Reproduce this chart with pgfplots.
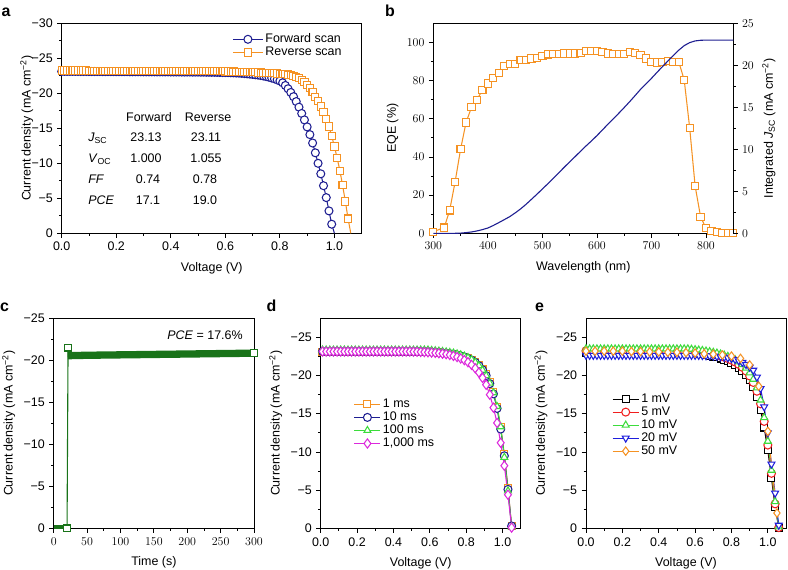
\documentclass[border=0pt]{standalone}
\usepackage{pgfplots}
\pgfplotsset{compat=1.18}
\usepackage{fontspec}
\setmainfont{Liberation Sans}
\definecolor{navy}{RGB}{30,30,145}
\definecolor{orng}{RGB}{245,146,35}
\definecolor{dgreen}{RGB}{25,115,25}
\definecolor{lgreen}{RGB}{60,220,60}
\definecolor{magn}{RGB}{220,40,220}
\definecolor{redc}{RGB}{240,30,30}
\definecolor{bluec}{RGB}{30,30,220}
\pgfplotsset{
  panel/.style={
    scale only axis, tick align=outside, xtick pos=bottom, ytick pos=left,
    major tick length=4.5bp, minor tick length=2.5bp,
    every tick/.style={black, line width=0.8bp},
    axis line style={line width=0.9bp, black},
    legend style={draw=none, fill=none, legend cell align=left, inner sep=1bp, row sep=-1.5bp},
    every axis plot/.append style={line width=1.05bp},
    xlabel shift=3bp,
  },
  bottomrow/.style={xticklabel style={yshift=-1bp}, xlabel shift=2bp},
  mk/.style n args={3}{color=#1, mark=#2, mark size=#3, mark options={solid, fill=white}},
  legimg/.style={legend image code/.code={\draw[mark repeat=2,mark phase=2,##1] plot coordinates {(0bp,0bp)(#1,0bp)(2*#1,0bp)};}},
}
\newcommand{\mcm}{(mA cm\textsuperscript{−2})}
\begin{document}
\fontsize{12.5}{15}\selectfont
\begin{tikzpicture}
\useasboundingbox (0,0) rectangle (788bp,-570bp);
% ---------------- a
\begin{axis}[panel, at={(61.7bp,-233.3bp)}, anchor=south west, width=300bp, height=210bp,
  xmin=0, xmax=1.1, ymin=-30, ymax=0, y dir=reverse,
  xtick={0,0.2,0.4,0.6,0.8,1.0}, xticklabels={0.0,0.2,0.4,0.6,0.8,1.0}, minor x tick num=1,
  ytick={-30,-25,-20,-15,-10,-5,0}, yticklabels={−30,−25,−20,−15,−10,−5,0}, minor y tick num=1,
  xlabel={Voltage (V)}, ylabel={Current density \mcm}, ylabel shift=-10bp,
  legimg=15bp, legend style={at={(0.565,0.965)}, anchor=north west}]
\addplot[mk={navy}{*}{4bp}] coordinates {(0.00,-23.13)(0.01,-23.13)(0.02,-23.13)(0.03,-23.13)(0.04,-23.13)(0.05,-23.13)(0.06,-23.12)(0.07,-23.12)(0.08,-23.12)(0.09,-23.12)(0.10,-23.11)(0.11,-23.11)(0.12,-23.11)(0.13,-23.11)(0.14,-23.11)(0.15,-23.10)(0.16,-23.10)(0.17,-23.10)(0.18,-23.10)(0.19,-23.10)(0.20,-23.09)(0.21,-23.09)(0.22,-23.09)(0.23,-23.09)(0.24,-23.09)(0.25,-23.08)(0.26,-23.08)(0.27,-23.08)(0.28,-23.08)(0.29,-23.08)(0.30,-23.07)(0.31,-23.07)(0.32,-23.07)(0.33,-23.07)(0.34,-23.07)(0.35,-23.06)(0.36,-23.06)(0.37,-23.06)(0.38,-23.06)(0.39,-23.06)(0.40,-23.05)(0.41,-23.05)(0.42,-23.05)(0.43,-23.05)(0.44,-23.04)(0.45,-23.04)(0.46,-23.04)(0.47,-23.04)(0.48,-23.03)(0.49,-23.03)(0.50,-23.03)(0.51,-23.02)(0.52,-23.02)(0.53,-23.01)(0.54,-23.01)(0.55,-23.00)(0.56,-23.00)(0.57,-22.99)(0.58,-22.98)(0.59,-22.97)(0.60,-22.96)(0.61,-22.95)(0.62,-22.94)(0.63,-22.92)(0.64,-22.90)(0.65,-22.88)(0.66,-22.85)(0.67,-22.82)(0.68,-22.78)(0.69,-22.74)(0.70,-22.70)(0.71,-22.65)(0.72,-22.60)(0.73,-22.54)(0.74,-22.47)(0.75,-22.39)(0.76,-22.30)(0.77,-22.19)(0.78,-22.07)(0.79,-21.93)(0.80,-21.76)(0.81,-21.50)(0.82,-21.12)(0.83,-20.65)(0.84,-20.12)(0.85,-19.52)(0.86,-18.82)(0.87,-18.02)(0.88,-17.12)(0.89,-16.20)(0.90,-15.20)(0.91,-14.10)(0.92,-12.90)(0.93,-11.50)(0.94,-10.00)(0.95,-8.50)(0.96,-6.80)(0.97,-5.10)(0.98,-3.20)(0.99,-1.30)};
\addlegendentry{Forward scan}
\addplot[mk={orng}{square*}{3.6bp}] coordinates {(0.00,-23.25)(0.01,-23.25)(0.02,-23.25)(0.03,-23.25)(0.04,-23.25)(0.05,-23.25)(0.06,-23.25)(0.07,-23.25)(0.08,-23.25)(0.09,-23.25)(0.10,-23.23)(0.11,-23.23)(0.12,-23.23)(0.13,-23.23)(0.14,-23.23)(0.15,-23.23)(0.16,-23.23)(0.17,-23.23)(0.18,-23.23)(0.19,-23.23)(0.20,-23.21)(0.21,-23.21)(0.22,-23.21)(0.23,-23.21)(0.24,-23.21)(0.25,-23.21)(0.26,-23.21)(0.27,-23.21)(0.28,-23.21)(0.29,-23.21)(0.30,-23.19)(0.31,-23.19)(0.32,-23.19)(0.33,-23.19)(0.34,-23.19)(0.35,-23.19)(0.36,-23.19)(0.37,-23.19)(0.38,-23.19)(0.39,-23.19)(0.40,-23.17)(0.41,-23.17)(0.42,-23.17)(0.43,-23.17)(0.44,-23.17)(0.45,-23.17)(0.46,-23.17)(0.47,-23.17)(0.48,-23.17)(0.49,-23.17)(0.50,-23.15)(0.51,-23.15)(0.52,-23.15)(0.53,-23.15)(0.54,-23.15)(0.55,-23.15)(0.56,-23.15)(0.57,-23.15)(0.58,-23.15)(0.59,-23.15)(0.60,-23.13)(0.61,-23.12)(0.62,-23.11)(0.63,-23.10)(0.64,-23.09)(0.65,-23.08)(0.66,-23.07)(0.67,-23.06)(0.68,-23.05)(0.69,-23.03)(0.70,-23.02)(0.71,-23.00)(0.72,-22.98)(0.73,-22.96)(0.74,-22.94)(0.75,-22.92)(0.76,-22.90)(0.77,-22.88)(0.78,-22.85)(0.79,-22.82)(0.80,-22.79)(0.81,-22.76)(0.82,-22.72)(0.83,-22.67)(0.84,-22.60)(0.85,-22.50)(0.86,-22.36)(0.87,-22.16)(0.88,-21.90)(0.89,-21.58)(0.90,-21.20)(0.91,-20.72)(0.92,-20.15)(0.93,-19.52)(0.94,-18.85)(0.95,-18.12)(0.96,-17.30)(0.97,-16.35)(0.98,-15.25)(0.99,-13.90)(1.00,-12.40)(1.01,-10.75)(1.02,-8.95)(1.03,-6.85)(1.04,-4.55)(1.05,-2.10)};
\addlegendentry{Reverse scan}
\addplot[navy, forget plot] coordinates {(0.99,-1.3)(1.0,0)};
\addplot[orng, forget plot] coordinates {(1.05,-2.1)(1.06,0)};
\end{axis}
% ---------------- b
\begin{axis}[panel, at={(433.3bp,-233.3bp)}, anchor=south west, width=300bp, height=210bp,
  xmin=300, xmax=850, ymin=0, ymax=110,
  xtick={300,400,...,800}, minor x tick num=1, ytick={0,20,...,100}, minor y tick num=1,
  xlabel={Wavelength (nm)}, ylabel={EQE (\%)}]
\addplot[mk={orng}{square*}{3.6bp}] coordinates {(300,0.8)(320,3)(330,12)(340,27)(350,44)(360,58)(370,66)(380,70)(390,75)(400,78.5)(410,81.5)(420,84)(430,87.6)(440,88.8)(450,88.8)(460,90.6)(470,90.6)(480,91.6)(490,92)(500,92.8)(510,93.7)(520,93.9)(530,94)(540,94.2)(550,94.2)(560,94.2)(570,94.6)(580,95.6)(590,95.3)(600,95.3)(610,94.8)(620,94.2)(630,93.9)(640,93.9)(650,93.9)(660,95.1)(670,94.6)(680,93.4)(690,91.6)(700,89.9)(710,89.5)(720,89.9)(730,90.4)(740,89.9)(750,89.9)(760,80.3)(770,55.3)(780,24.8)(790,8.7)(800,2.6)(810,1.2)(820,0.5)(830,0.3)(840,0.3)(850,0.3)};
\end{axis}
\begin{axis}[scale only axis, at={(433.3bp,-233.3bp)}, anchor=south west, width=300bp, height=210bp,
  xmin=300, xmax=850, ymin=0, ymax=25, axis x line=none, axis y line*=right, ytick pos=right,
  tick align=outside, major tick length=4.5bp, minor tick length=2.5bp,
  every tick/.style={black, line width=0.8bp}, axis line style={line width=0.9bp, black},
  ytick={0,5,...,25}, minor y tick num=1,
  ylabel={Integrated \textit{J}\textsubscript{SC} \mcm}]
\addplot[navy, line width=1.1bp] coordinates {(300,0)(340,0)(350,0.02)(360,0.08)(370,0.16)(380,0.28)(390,0.44)(400,0.63)(410,0.93)(420,1.27)(430,1.62)(440,1.98)(450,2.42)(460,2.9)(470,3.45)(480,4.05)(490,4.65)(500,5.28)(510,5.9)(520,6.55)(530,7.2)(540,7.86)(550,8.5)(560,9.13)(570,9.77)(580,10.4)(590,11.0)(600,11.63)(610,12.3)(620,12.98)(630,13.63)(640,14.29)(650,14.97)(660,15.67)(670,16.4)(680,17.14)(690,17.8)(700,18.45)(710,19.15)(720,19.84)(730,20.5)(740,21.15)(750,21.8)(760,22.34)(770,22.7)(780,22.9)(790,22.98)(800,23.0)(850,23.0)};
\end{axis}
% ---------------- c
\begin{axis}[panel, bottomrow, at={(53.7bp,-528.3bp)}, anchor=south west, width=200.3bp, height=210bp,
  xmin=0, xmax=300, ymin=-25, ymax=0, y dir=reverse,
  xtick={0,50,...,300}, minor x tick num=1,
  ytick={-25,-20,-15,-10,-5,0}, yticklabels={−25,−20,−15,−10,−5,0}, minor y tick num=1,
  xlabel={Time (s)}, ylabel={Current density \mcm}]
\addplot[dgreen, line width=6bp] coordinates {(0,0)(19,0)};
\addplot[dgreen, line width=7.3bp] coordinates {(21,-20.55)(50,-20.6)(100,-20.65)(150,-20.7)(200,-20.75)(250,-20.8)(300,-20.85)};
\addplot[mk={dgreen}{square*}{3.3bp}, line width=1.1bp] coordinates {(20,0)(21.5,-21.5)};
\addplot[mk={dgreen}{square*}{3.3bp}, line width=1.1bp] coordinates {(300,-20.85)};
\end{axis}
% ---------------- d
\begin{axis}[panel, bottomrow, at={(320.7bp,-528.3bp)}, anchor=south west, width=200bp, height=210bp,
  xmin=0, xmax=1.1, ymin=-27.5, ymax=0, y dir=reverse,
  xtick={0,0.2,0.4,0.6,0.8,1.0}, xticklabels={0.0,0.2,0.4,0.6,0.8,1.0}, minor x tick num=1,
  ytick={-25,-20,-15,-10,-5,0}, yticklabels={−25,−20,−15,−10,−5,0}, minor y tick num=1,
  xlabel={Voltage (V)}, ylabel={Current density \mcm},
  legimg=13bp, legend style={at={(0.16,0.63)}, anchor=north west}]
\addplot[mk={orng}{square*}{3.5bp}] coordinates {(0.01,-23.10)(0.03,-23.10)(0.05,-23.10)(0.07,-23.10)(0.09,-23.10)(0.11,-23.10)(0.13,-23.10)(0.15,-23.10)(0.17,-23.10)(0.19,-23.10)(0.21,-23.10)(0.23,-23.10)(0.25,-23.10)(0.27,-23.10)(0.29,-23.10)(0.31,-23.10)(0.33,-23.10)(0.35,-23.10)(0.37,-23.10)(0.39,-23.10)(0.41,-23.10)(0.43,-23.10)(0.45,-23.10)(0.47,-23.10)(0.49,-23.10)(0.51,-23.10)(0.53,-23.10)(0.55,-23.10)(0.57,-23.10)(0.59,-23.10)(0.61,-23.08)(0.63,-23.05)(0.65,-23.02)(0.67,-22.98)(0.69,-22.93)(0.71,-22.88)(0.73,-22.82)(0.75,-22.73)(0.77,-22.62)(0.79,-22.48)(0.81,-22.30)(0.83,-22.08)(0.85,-21.80)(0.87,-21.40)(0.89,-20.88)(0.91,-20.15)(0.93,-19.15)(0.95,-17.80)(0.97,-15.90)(0.99,-13.25)(1.01,-9.70)(1.03,-5.30)(1.05,-0.35)};
\addlegendentry{1 ms}
\addplot[mk={navy}{*}{4bp}] coordinates {(0.01,-23.15)(0.03,-23.15)(0.05,-23.15)(0.07,-23.15)(0.09,-23.15)(0.11,-23.15)(0.13,-23.15)(0.15,-23.15)(0.17,-23.15)(0.19,-23.15)(0.21,-23.15)(0.23,-23.15)(0.25,-23.15)(0.27,-23.15)(0.29,-23.15)(0.31,-23.15)(0.33,-23.15)(0.35,-23.15)(0.37,-23.15)(0.39,-23.15)(0.41,-23.15)(0.43,-23.15)(0.45,-23.15)(0.47,-23.15)(0.49,-23.15)(0.51,-23.15)(0.53,-23.15)(0.55,-23.15)(0.57,-23.15)(0.59,-23.15)(0.61,-23.10)(0.63,-23.07)(0.65,-23.03)(0.67,-22.98)(0.69,-22.93)(0.71,-22.87)(0.73,-22.80)(0.75,-22.70)(0.77,-22.58)(0.79,-22.43)(0.81,-22.25)(0.83,-22.02)(0.85,-21.72)(0.87,-21.30)(0.89,-20.75)(0.91,-20.00)(0.93,-18.95)(0.95,-17.60)(0.97,-15.70)(0.99,-13.00)(1.01,-9.50)(1.03,-5.10)(1.05,-0.30)};
\addlegendentry{10 ms}
\addplot[mk={lgreen}{triangle*}{4bp}] coordinates {(0.01,-23.35)(0.03,-23.35)(0.05,-23.35)(0.07,-23.35)(0.09,-23.35)(0.11,-23.35)(0.13,-23.35)(0.15,-23.35)(0.17,-23.35)(0.19,-23.35)(0.21,-23.35)(0.23,-23.35)(0.25,-23.35)(0.27,-23.35)(0.29,-23.35)(0.31,-23.35)(0.33,-23.35)(0.35,-23.35)(0.37,-23.35)(0.39,-23.35)(0.41,-23.35)(0.43,-23.35)(0.45,-23.35)(0.47,-23.35)(0.49,-23.35)(0.51,-23.35)(0.53,-23.35)(0.55,-23.35)(0.57,-23.35)(0.59,-23.35)(0.61,-23.30)(0.63,-23.26)(0.65,-23.21)(0.67,-23.16)(0.69,-23.10)(0.71,-23.03)(0.73,-22.95)(0.75,-22.85)(0.77,-22.72)(0.79,-22.56)(0.81,-22.36)(0.83,-22.10)(0.85,-21.75)(0.87,-21.30)(0.89,-20.72)(0.91,-20.00)(0.93,-19.00)(0.95,-17.75)(0.97,-15.95)(0.99,-13.30)(1.01,-9.30)(1.03,-4.90)(1.05,-0.20)};
\addlegendentry{100 ms}
\addplot[mk={magn}{diamond*}{4.6bp}] coordinates {(0.01,-23.15)(0.03,-23.15)(0.05,-23.15)(0.07,-23.15)(0.09,-23.15)(0.11,-23.15)(0.13,-23.15)(0.15,-23.15)(0.17,-23.15)(0.19,-23.15)(0.21,-23.15)(0.23,-23.15)(0.25,-23.15)(0.27,-23.15)(0.29,-23.15)(0.31,-23.15)(0.33,-23.15)(0.35,-23.15)(0.37,-23.15)(0.39,-23.15)(0.41,-23.15)(0.43,-23.15)(0.45,-23.15)(0.47,-23.15)(0.49,-23.15)(0.51,-23.13)(0.53,-23.12)(0.55,-23.10)(0.57,-23.08)(0.59,-23.05)(0.61,-23.02)(0.63,-22.98)(0.65,-22.93)(0.67,-22.87)(0.69,-22.80)(0.71,-22.70)(0.73,-22.58)(0.75,-22.43)(0.77,-22.25)(0.79,-22.03)(0.81,-21.75)(0.83,-21.40)(0.85,-20.95)(0.87,-20.40)(0.89,-19.70)(0.91,-18.80)(0.93,-17.50)(0.95,-15.80)(0.97,-13.80)(0.99,-11.20)(1.01,-8.20)(1.03,-4.40)(1.05,-0.10)};
\addlegendentry{1,000 ms}
\end{axis}
% ---------------- e
\begin{axis}[panel, bottomrow, at={(586bp,-528.3bp)}, anchor=south west, width=200bp, height=210bp,
  xmin=0, xmax=1.1, ymin=-27.5, ymax=0, y dir=reverse,
  xtick={0,0.2,0.4,0.6,0.8,1.0}, xticklabels={0.0,0.2,0.4,0.6,0.8,1.0}, minor x tick num=1,
  ytick={-25,-20,-15,-10,-5,0}, yticklabels={−25,−20,−15,−10,−5,0}, minor y tick num=1,
  xlabel={Voltage (V)}, ylabel={Current density \mcm},
  legimg=13bp, legend style={at={(0.125,0.655)}, anchor=north west}]
\addplot[mk={black}{square*}{3.5bp}] coordinates {(0.00,-23.00)(0.02,-23.00)(0.04,-23.00)(0.06,-23.00)(0.08,-23.00)(0.10,-23.00)(0.12,-23.00)(0.14,-23.00)(0.16,-23.00)(0.18,-23.00)(0.20,-23.00)(0.22,-23.00)(0.24,-23.00)(0.26,-23.00)(0.28,-23.00)(0.30,-23.00)(0.32,-23.00)(0.34,-23.00)(0.36,-23.00)(0.38,-23.00)(0.40,-23.00)(0.42,-23.00)(0.44,-23.00)(0.46,-23.00)(0.48,-23.00)(0.50,-23.00)(0.52,-23.00)(0.54,-23.00)(0.56,-23.00)(0.58,-22.95)(0.60,-22.90)(0.62,-22.84)(0.64,-22.77)(0.66,-22.69)(0.68,-22.60)(0.70,-22.50)(0.72,-22.38)(0.74,-22.24)(0.76,-22.08)(0.78,-21.88)(0.80,-21.65)(0.82,-21.38)(0.84,-21.05)(0.86,-20.62)(0.88,-20.08)(0.90,-19.38)(0.92,-18.45)(0.94,-17.20)(0.96,-15.50)(0.98,-13.20)(1.00,-10.20)(1.02,-6.60)(1.04,-2.80)(1.06,-0.10)};
\addlegendentry{1 mV}
\addplot[mk={redc}{*}{4bp}] coordinates {(0.00,-23.25)(0.02,-23.25)(0.04,-23.25)(0.06,-23.25)(0.08,-23.25)(0.10,-23.25)(0.12,-23.25)(0.14,-23.25)(0.16,-23.25)(0.18,-23.25)(0.20,-23.25)(0.22,-23.25)(0.24,-23.25)(0.26,-23.25)(0.28,-23.25)(0.30,-23.25)(0.32,-23.25)(0.34,-23.25)(0.36,-23.25)(0.38,-23.25)(0.40,-23.25)(0.42,-23.25)(0.44,-23.25)(0.46,-23.25)(0.48,-23.25)(0.50,-23.25)(0.52,-23.25)(0.54,-23.25)(0.56,-23.25)(0.58,-23.20)(0.60,-23.15)(0.62,-23.10)(0.64,-23.04)(0.66,-22.97)(0.68,-22.89)(0.70,-22.80)(0.72,-22.69)(0.74,-22.56)(0.76,-22.41)(0.78,-22.23)(0.80,-22.02)(0.82,-21.77)(0.84,-21.46)(0.86,-21.08)(0.88,-20.60)(0.90,-19.95)(0.92,-19.10)(0.94,-17.95)(0.96,-16.30)(0.98,-14.00)(1.00,-10.90)(1.02,-7.20)(1.04,-3.20)(1.06,-0.10)};
\addlegendentry{5 mV}
\addplot[mk={lgreen}{triangle*}{4bp}] coordinates {(0.00,-23.50)(0.02,-23.50)(0.04,-23.50)(0.06,-23.50)(0.08,-23.50)(0.10,-23.50)(0.12,-23.50)(0.14,-23.50)(0.16,-23.50)(0.18,-23.50)(0.20,-23.50)(0.22,-23.50)(0.24,-23.50)(0.26,-23.50)(0.28,-23.50)(0.30,-23.50)(0.32,-23.50)(0.34,-23.50)(0.36,-23.50)(0.38,-23.50)(0.40,-23.50)(0.42,-23.50)(0.44,-23.50)(0.46,-23.50)(0.48,-23.50)(0.50,-23.50)(0.52,-23.50)(0.54,-23.50)(0.56,-23.50)(0.58,-23.45)(0.60,-23.40)(0.62,-23.35)(0.64,-23.29)(0.66,-23.22)(0.68,-23.14)(0.70,-23.05)(0.72,-22.95)(0.74,-22.83)(0.76,-22.69)(0.78,-22.52)(0.80,-22.32)(0.82,-22.08)(0.84,-21.79)(0.86,-21.43)(0.88,-20.97)(0.90,-20.35)(0.92,-19.52)(0.94,-18.40)(0.96,-16.80)(0.98,-14.50)(1.00,-11.40)(1.02,-7.60)(1.04,-3.50)(1.06,-0.20)};
\addlegendentry{10 mV}
\addplot[color=bluec, mark=triangle*, mark size=4bp, mark options={solid, fill=white, rotate=180}] coordinates {(0.00,-22.65)(0.02,-22.65)(0.04,-22.65)(0.06,-22.65)(0.08,-22.65)(0.10,-22.65)(0.12,-22.65)(0.14,-22.65)(0.16,-22.65)(0.18,-22.65)(0.20,-22.65)(0.22,-22.65)(0.24,-22.65)(0.26,-22.65)(0.28,-22.65)(0.30,-22.65)(0.32,-22.65)(0.34,-22.65)(0.36,-22.65)(0.38,-22.65)(0.40,-22.65)(0.42,-22.65)(0.44,-22.65)(0.46,-22.65)(0.48,-22.65)(0.50,-22.65)(0.52,-22.65)(0.54,-22.65)(0.56,-22.65)(0.58,-22.65)(0.60,-22.65)(0.62,-22.64)(0.64,-22.62)(0.66,-22.60)(0.68,-22.58)(0.70,-22.55)(0.72,-22.51)(0.74,-22.46)(0.76,-22.40)(0.78,-22.32)(0.80,-22.22)(0.82,-22.10)(0.84,-21.93)(0.86,-21.72)(0.88,-21.45)(0.90,-21.10)(0.92,-20.70)(0.94,-19.80)(0.96,-18.30)(0.98,-15.90)(1.00,-12.50)(1.02,-8.40)(1.04,-4.60)(1.06,-0.40)};
\addlegendentry{20 mV}
\addplot[mk={orng}{diamond*}{4.2bp}] coordinates {(0.00,-23.20)(0.05,-23.20)(0.10,-23.20)(0.15,-23.20)(0.20,-23.20)(0.25,-23.15)(0.30,-23.15)(0.35,-23.10)(0.40,-23.10)(0.45,-23.05)(0.50,-23.05)(0.55,-23.00)(0.60,-22.95)(0.65,-22.85)(0.70,-22.80)(0.75,-22.70)(0.80,-22.55)(0.85,-22.25)(0.90,-21.40)(0.95,-18.60)(1.00,-12.70)(1.05,-2.00)};
\addlegendentry{50 mV}
\end{axis}
% ---------------- text
\node[anchor=base] at (149bp,-121bp) {Forward};
\node[anchor=base] at (208bp,-121bp) {Reverse};
\node[anchor=base west] at (84bp,-141.7bp) {\textit{J}\textsubscript{SC}};
\node[anchor=base west] at (84bp,-162.5bp) {\textit{V}\textsubscript{OC}};
\node[anchor=base west] at (84bp,-183.5bp) {\textit{FF}};
\node[anchor=base west] at (84bp,-204.3bp) {\textit{PCE}};
\node[anchor=base] at (146bp,-141.7bp) {23.13};
\node[anchor=base] at (146bp,-162.5bp) {1.000};
\node[anchor=base] at (148bp,-183.5bp) {0.74};
\node[anchor=base] at (148bp,-204.3bp) {17.1};
\node[anchor=base] at (206bp,-141.7bp) {23.11};
\node[anchor=base] at (206bp,-162.5bp) {1.055};
\node[anchor=base] at (205bp,-183.5bp) {0.78};
\node[anchor=base] at (205bp,-204.3bp) {19.0};
\node[anchor=base east] at (247bp,-339.3bp) {\textit{PCE} = 17.6\%};
\begin{scope}[every node/.style={font=\fontsize{16}{18}\selectfont\bfseries, inner sep=0pt, anchor=base west}]
\node at (1.5bp,-16.7bp) {a};
\node at (385bp,-16.7bp) {b};
\node at (0bp,-311.7bp) {c};
\node at (266.5bp,-311.7bp) {d};
\node at (535bp,-311.7bp) {e};
\end{scope}
\end{tikzpicture}
\end{document}
